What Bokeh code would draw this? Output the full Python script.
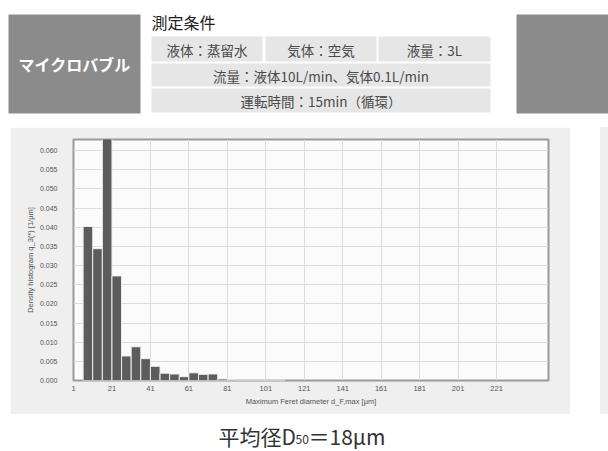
from bokeh.plotting import figure
from bokeh.layouts import column, row
from bokeh.models import Range1d, FixedTicker, Spacer, ColumnDataSource, PrintfTickFormatter
from bokeh.core.properties import value
from bokeh.embed import file_html
from bokeh.resources import INLINE

# ---------------- data ----------------
bin_start = [6, 11, 16, 21, 26, 31, 36, 41, 46, 51, 56, 61, 66, 71, 76, 81, 86, 91, 96, 101, 106]
bin_width = 5
density = [0.0402, 0.0344, 0.0680, 0.0273, 0.0064, 0.0088, 0.0057, 0.0037, 0.0019, 0.0017,
           0.0010, 0.0020, 0.0016, 0.0017, 0.0004, 0.0002, 0.0001, 0.0001, 0.0001, 0.0001, 0.0001]
x_ticks = [1, 21, 41, 61, 81, 101, 121, 141, 161, 181, 201, 221]
y_ticks = [0.000, 0.005, 0.010, 0.015, 0.020, 0.025, 0.030, 0.035, 0.040, 0.045, 0.050, 0.055, 0.060]

title_label = "マイクロバブル"
cond_title = "測定条件"
cond_row1 = ["液体：蒸留水", "気体：空気", "液量：3L"]
cond_row2 = "流量：液体10L/min、気体0.1L/min"
cond_row3 = "運転時間：15min（循環）"
x_label = "Maximum Feret diameter d_F,max [µm]"
y_label = "Density histogram q_3(*) [1/µm]"
footer_parts = ["平均径D", "50", "＝18μm"]

JP = value("Noto Sans CJK JP")
PANEL = "#eeefee"

# ---------------- header ----------------
hdr = figure(width=608, height=127, x_range=Range1d(0, 608), y_range=Range1d(127, 0),
             output_backend="svg", toolbar_location=None, min_border=0)
hdr.axis.visible = False
hdr.grid.visible = False
hdr.outline_line_color = None
hdr.background_fill_color = "white"
hdr.border_fill_color = "white"

hdr.quad(left=[8, 516], right=[140, 608], top=[14, 14], bottom=[113, 113],
         fill_color="#8b8b8b", line_color=None)
hdr.text(x=[74], y=[63], text=[title_label], text_font=JP, text_font_size="16px",
         text_font_style="bold", text_color="white", text_align="center", text_baseline="middle")
hdr.text(x=[151], y=[21], text=[cond_title], text_font=JP, text_font_size="16px",
         text_color="#222222", text_align="left", text_baseline="middle")

cell_l = [151, 265, 378, 151, 151]
cell_r = [262, 376, 490, 490, 490]
cell_t = [36, 36, 36, 63, 88]
cell_b = [61, 61, 61, 86, 112]
hdr.quad(left=cell_l, right=cell_r, top=cell_t, bottom=cell_b, fill_color="#e6e6e6", line_color=None)
cell_text = cond_row1 + [cond_row2, cond_row3]
hdr.text(x=[(a + b) / 2 for a, b in zip(cell_l, cell_r)],
         y=[(a + b) / 2 + 0.5 for a, b in zip(cell_t, cell_b)],
         text=cell_text, text_font=JP, text_font_size="13.5px", text_color="#4a4a4a",
         text_align="center", text_baseline="middle")

# ---------------- chart ----------------
p = figure(width=560, height=287, x_range=Range1d(1, 248), y_range=Range1d(0, 0.0629),
           output_backend="svg", toolbar_location=None,
           min_border_left=63, min_border_right=22, min_border_top=12, min_border_bottom=34)
p.background_fill_color = "#fbfbfb"
p.border_fill_color = PANEL
p.outline_line_color = "#9a9a9a"
p.outline_line_width = 2

src = ColumnDataSource(dict(left=bin_start, right=[b + bin_width for b in bin_start],
                            top=density, bottom=[0] * len(density)))
p.quad(left="left", right="right", top="top", bottom="bottom", source=src,
       fill_color="#5c5c5c", line_color="#eeeeee", line_width=1)

p.xaxis.ticker = FixedTicker(ticks=x_ticks)
p.yaxis.ticker = FixedTicker(ticks=y_ticks)
p.yaxis.formatter = PrintfTickFormatter(format="%.3f")

for ax in (p.xaxis[0], p.yaxis[0]):
    ax.axis_line_color = None
    ax.major_tick_line_color = None
    ax.minor_tick_line_color = None
    ax.major_tick_out = 0
    ax.major_tick_in = 0
    ax.minor_tick_out = 0
    ax.major_label_text_font = "Liberation Sans"
    ax.major_label_text_font_size = "7px"
    ax.major_label_text_color = "#555555"
    ax.axis_label_text_font = "Liberation Sans"
    ax.axis_label_text_font_size = "7.5px"
    ax.axis_label_text_font_style = "normal"
    ax.axis_label_text_color = "#555555"

p.xaxis.major_label_text_font_size = "7.5px"
p.xaxis.axis_label = x_label
p.yaxis.axis_label = y_label
p.xaxis.major_label_standoff = 5
p.xaxis.axis_label_standoff = 3
p.yaxis.major_label_standoff = 16
p.yaxis.axis_label_standoff = 2

p.xgrid.grid_line_color = "#dcdcdc"
p.ygrid.grid_line_color = "#dcdcdc"

# ---------------- footer ----------------
ftr = figure(width=608, height=37, x_range=Range1d(0, 608), y_range=Range1d(451, 414),
             output_backend="svg", toolbar_location=None, min_border=0)
ftr.axis.visible = False
ftr.grid.visible = False
ftr.outline_line_color = None
ftr.background_fill_color = "white"
ftr.border_fill_color = "white"
ftr.text(x=[218], y=[435], text=[footer_parts[0]], text_font=JP, text_font_size="21px",
         text_color="#333333", text_align="left", text_baseline="middle")
ftr.text(x=[295], y=[439], text=[footer_parts[1]], text_font=JP, text_font_size="12px",
         text_color="#333333", text_align="left", text_baseline="middle")
ftr.text(x=[308], y=[435], text=[footer_parts[2]], text_font=JP, text_font_size="21px",
         text_color="#333333", text_align="left", text_baseline="middle")

mid = row(Spacer(width=10, height=287), p, Spacer(width=30, height=287),
          Spacer(width=8, height=287, styles={"background-color": PANEL}))
layout = column(hdr, mid, ftr)

open("out.html", "w").write(file_html(layout, INLINE))
